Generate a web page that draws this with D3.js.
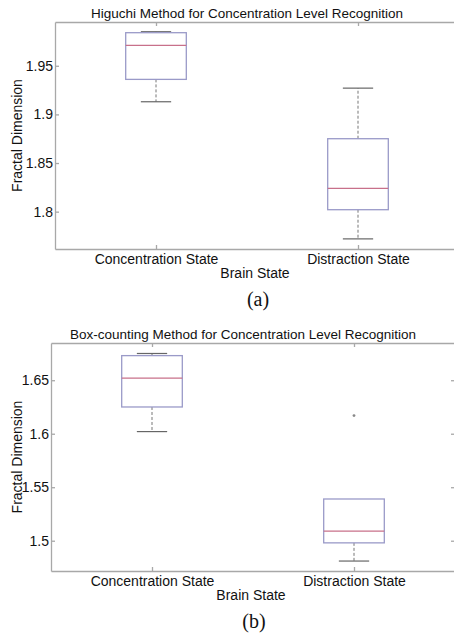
<!DOCTYPE html>
<html>
<head>
<meta charset="utf-8">
<script src="https://cdn.jsdelivr.net/npm/d3@7"></script>
<style>
  body { margin: 0; background: #fff; overflow: hidden; }
  svg { display: block; font-family: 'Liberation Sans', Arial, sans-serif; }
  .axis path, .axis line { stroke: #a8a8a8; stroke-width: 1.3; }
  .axis text { font-size: 14px; fill: #111; }
  .chart-title { font-size: 13.5px; fill: #111; text-anchor: middle; }
  .x-label, .y-label { font-size: 14px; fill: #111; text-anchor: middle; }
  .caption { font-family: 'Liberation Serif', 'Times New Roman', serif; font-size: 20px; fill: #111; text-anchor: middle; }
</style>
</head>
<body>
<svg id="chart" width="454" height="636"></svg>
<script>
// categories on the x axis
const categories = ['Concentration State', 'Distraction State'];

// [lower whisker, Q1, median, Q3, upper whisker] per category
const higuchiStats = [
  [1.913, 1.936, 1.971, 1.984, 1.985],
  [1.772, 1.802, 1.824, 1.875, 1.927]
];
const boxCountingStats = [
  [1.602, 1.625, 1.652, 1.673, 1.675],
  [1.481, 1.498, 1.509, 1.539, 1.539]
];
// outliers: [category index, value]
const higuchiOutliers = [];
const boxCountingOutliers = [[1, 1.617]];

// y axis limits and ticks
const higuchiLimits = [1.7616, 1.995];
const higuchiTicks = [1.8, 1.85, 1.9, 1.95];
const boxCountingLimits = [1.4717, 1.6848];
const boxCountingTicks = [1.5, 1.55, 1.6, 1.65];

class BoxPlot {
  constructor(_config, _stats, _outliers) {
    this.config = {
      parentElement: _config.parentElement,
      top: _config.top,
      left: _config.left,
      width: _config.width,
      height: _config.height,
      limits: _config.limits,
      ticks: _config.ticks,
      title: _config.title,
      caption: _config.caption
    };
    this.stats = _stats;
    this.outliers = _outliers;
    this.initVis();
  }

  initVis() {
    let vis = this;
    const c = vis.config;

    vis.xScale = d3.scalePoint()
      .domain(categories)
      .range([0, c.width])
      .padding(0.5);

    vis.yScale = d3.scaleLinear()
      .domain(c.limits)
      .range([c.height, 0]);

    vis.chart = d3.select(c.parentElement).append('g')
      .attr('transform', `translate(${c.left},${c.top})`);

    // axes on all four sides, ticks pointing inwards (matlab box style)
    vis.chart.append('g')
      .attr('class', 'axis x-axis')
      .attr('transform', `translate(0,${c.height})`)
      .call(d3.axisBottom(vis.xScale).tickSize(-4).tickSizeOuter(0).tickPadding(5));

    vis.chart.append('g')
      .attr('class', 'axis')
      .call(d3.axisTop(vis.xScale).tickSize(-4).tickSizeOuter(0).tickFormat(''));

    vis.chart.append('g')
      .attr('class', 'axis y-axis')
      .call(d3.axisLeft(vis.yScale).tickValues(c.ticks).tickSize(-4).tickSizeOuter(0)
        .tickPadding(2).tickFormat(d3.format('~g')));

    vis.chart.append('g')
      .attr('class', 'axis')
      .attr('transform', `translate(${c.width},0)`)
      .call(d3.axisRight(vis.yScale).tickValues(c.ticks).tickSize(-4).tickSizeOuter(0).tickFormat(''));

    vis.chart.append('text')
      .attr('class', 'chart-title')
      .attr('x', 202 - 10)
      .attr('y', -4)
      .text(c.title);

    vis.chart.append('text')
      .attr('class', 'x-label')
      .attr('x', 202 - 2)
      .attr('y', c.height + 29)
      .text('Brain State');

    vis.chart.append('text')
      .attr('class', 'y-label')
      .attr('transform', `translate(${22 - c.left},${c.height / 2}) rotate(-90)`)
      .text('Fractal Dimension');

    vis.chart.append('text')
      .attr('class', 'caption')
      .attr('x', 202 + 1)
      .attr('y', c.height + 57)
      .text(c.caption);

    vis.renderVis();
  }

  renderVis() {
    let vis = this;
    const half = vis.xScale.step() * 0.15;

    const boxes = vis.chart.selectAll('.box')
      .data(vis.stats)
      .join('g')
      .attr('class', 'box')
      .attr('transform', (d, i) => `translate(${vis.xScale(categories[i])},0)`);

    // whiskers
    boxes.append('line')
      .attr('y1', d => vis.yScale(d[3]))
      .attr('y2', d => vis.yScale(d[4]))
      .attr('stroke', '#777').attr('stroke-dasharray', '3,2');
    boxes.append('line')
      .attr('y1', d => vis.yScale(d[1]))
      .attr('y2', d => vis.yScale(d[0]))
      .attr('stroke', '#777').attr('stroke-dasharray', '3,2');

    // whisker caps (hidden behind the box edge when whisker == quartile)
    boxes.selectAll('.cap')
      .data(d => [[d[0], d[1]], [d[4], d[3]]].filter(p => p[0] !== p[1]))
      .join('line')
      .attr('class', 'cap')
      .attr('x1', -half / 2).attr('x2', half / 2)
      .attr('y1', p => vis.yScale(p[0])).attr('y2', p => vis.yScale(p[0]))
      .attr('stroke', '#666').attr('stroke-width', 1.2);

    boxes.append('rect')
      .attr('x', -half)
      .attr('width', half * 2)
      .attr('y', d => vis.yScale(d[3]))
      .attr('height', d => vis.yScale(d[1]) - vis.yScale(d[3]))
      .attr('fill', 'none')
      .attr('stroke', '#9a9ac8')
      .attr('stroke-width', 1.3);

    boxes.append('line')
      .attr('x1', -half).attr('x2', half)
      .attr('y1', d => vis.yScale(d[2])).attr('y2', d => vis.yScale(d[2]))
      .attr('stroke', '#c8708a').attr('stroke-width', 1.2);

    vis.chart.selectAll('.outlier')
      .data(vis.outliers)
      .join('circle')
      .attr('class', 'outlier')
      .attr('cx', d => vis.xScale(categories[d[0]]))
      .attr('cy', d => vis.yScale(d[1]))
      .attr('r', 1.4)
      .attr('fill', '#888');
  }
}

new BoxPlot({
  parentElement: '#chart', top: 22, left: 55, width: 404, height: 227,
  limits: higuchiLimits, ticks: higuchiTicks,
  title: 'Higuchi Method for Concentration Level Recognition', caption: '(a)'
}, higuchiStats, higuchiOutliers);

new BoxPlot({
  parentElement: '#chart', top: 343, left: 51, width: 404, height: 228,
  limits: boxCountingLimits, ticks: boxCountingTicks,
  title: 'Box-counting Method for Concentration Level Recognition', caption: '(b)'
}, boxCountingStats, boxCountingOutliers);
</script>
</body>
</html>
